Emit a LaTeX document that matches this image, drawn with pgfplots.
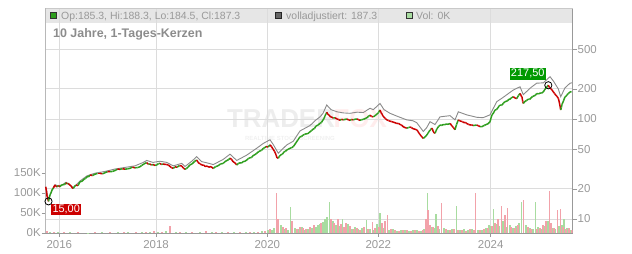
\documentclass[border=0pt]{standalone}
\usepackage{pgfplots}
\pgfplotsset{compat=1.18}
\usepackage{fontspec}
\setmainfont{Liberation Sans}
\definecolor{tickc}{HTML}{999999}
\definecolor{gridc}{HTML}{DCDCDC}
\definecolor{hdr}{HTML}{E6E6E6}
\definecolor{vgreen}{HTML}{A8DCA0}
\definecolor{vpink}{HTML}{F2A2AA}
\definecolor{pgreen}{HTML}{2E9E1E}
\definecolor{pred}{HTML}{CC0000}
\definecolor{adj}{HTML}{8A8A8A}
\definecolor{boxgreen}{HTML}{009900}

\pgfplotstableread{
x y d
45.7 21 0
46.5 19 0
47 17 0
48.5 15 1
50 17.5 1
51 18.2 1
52 19.5 1
53.5 20.5 0
55 21.9 0
56 21.2 0
57 21 1
58.5 21.6 0
60 21 1
61.5 21.9 1
63 22 1
64.5 22.1 1
66 23 0
67 22.5 1
68.3 22.7 0
69.5 22 0
71 21.5 0
72 20.6 0
73.3 20.2 1
74.5 21.2 1
76 21.8 0
78 21.6 1
80 23.6 1
82 23.8 1
84 25 1
85.5 25.4 1
87 26.5 1
88.5 26.4 1
90 27.5 0
92.5 27.2 1
95 28 1
97.5 28.6 0
100 28.6 0
102.5 28.3 1
105 29 1
107.5 29.8 0
110 29.7 1
112.5 29.9 1
115 30.5 1
117.5 31.5 0
120 31.4 1
122.5 31.8 0
125 31.5 1
127.5 31.7 1
130 32.1 1
132.5 33 0
135 32.5 1
137.5 32.7 1
140 33.3 1
141.5 34.2 1
143 35 1
145 36 1
146.7 36.6 0
148.5 35.2 1
150 35.5 0
151.5 34.6 1
153 35 0
155 34.4 1
156.7 34.7 1
158.5 35.8 1
160 36 0
161.5 35 1
163 35.5 0
165 35.2 0
166.7 35 0
168.5 34.6 0
170 33.5 0
171.5 32.6 0
173.3 32.1 1
175 33.2 0
177 33 1
179.5 34.2 0
181.7 33.9 0
183.5 32.2 0
185 31.4 1
186.5 32 1
188 33 1
190 34.8 1
192 35.5 1
194.5 37.6 1
196.7 38.9 0
198 37 0
199 36 0
200.5 35.6 0
201.7 34.5 0
203.5 34.8 0
205 33.5 0
207 33.8 0
209 33 0
211 33.4 0
213.3 32 1
215.5 33.4 1
218 34 1
220.5 35.5 1
223.3 36 1
225 37.5 1
227 38.5 1
228.5 39.2 1
230 40.5 0
231.5 39.5 0
233 37.5 0
235 36.4 0
236.7 34.7 1
238.5 36 1
240 36.5 1
241.5 36.2 1
243 37.5 1
245 37.8 1
246.7 38.9 1
248.5 40.3 1
250 41 1
251.5 41.2 1
253 43 1
255 44 1
256.7 45.4 1
258.5 47 1
260 48 1
261.5 48.5 1
263.3 50.9 1
264.5 51.5 1
266 53 0
268 52.5 1
270 55 0
271.5 53 0
273 50 0
274.5 47.5 0
276 44 0
277 41 0
278.3 40.5 1
279.5 42.5 1
281 44 1
282.5 44.5 1
284 47 1
285.5 47.5 1
286.7 49 1
288.5 50 1
290 51 1
291.5 51.5 1
293.3 53 1
294.5 55 1
296 58 1
298 62 1
300 66.5 1
301.5 66.8 1
303 69 1
304.5 70.2 1
306 71 1
308 71.5 1
310 74.6 1
311.5 76.5 1
313 79 1
314.5 80.5 1
316 85 1
318 87 1
320 90.5 1
321.5 92.5 1
323 98 1
324 101 1
325 108 1
326 112 1
326.7 117 0
328 111 0
329 110 0
330 106 0
331 105 0
332 104 0
333.3 102 1
335 103 0
337 100 0
338.5 99 0
340 97 1
341.5 99.5 0
343.3 98 1
345 99 1
347 100 0
348.5 98 0
350 97 1
351.5 99 0
353.3 98 1
355 99.5 1
357 100 0
358.5 98.5 0
360 97 1
361.5 98.5 1
363.3 99 1
365 101 1
367 103 1
368.5 106.5 1
370 109 0
371.5 106 0
373.3 105 1
375 108 1
377 112 1
378.5 116 1
380 123 0
381 116 0
382 112 0
383 107 0
384 104 0
385.5 101 0
386.7 98 0
388.5 96.5 0
390 95 0
391.5 94.5 0
393 93 0
395 92 0
396.7 90 0
398.5 90.5 0
400 88 0
401.5 87 0
403 84 0
405 82 0
406.7 81 1
408.5 82 1
410 83 0
411.5 82 0
413 80 0
415 79 0
416.7 78 0
418 75 0
419 72 0
420 70 0
421 68 0
422 66 0
423.3 64 1
425 66 1
426.7 69 1
428 72 1
429 75 1
430.5 78 1
431.7 81 0
432.5 79 0
433 76 0
434 73 0
435 72 1
436 76 1
437 80 1
438.5 84 1
440 87 1
441.5 86 1
443 88 1
444.5 87.5 1
446 89 1
448 88.5 1
450 90 0
451 88 0
452 85 0
453.5 82 0
455 78 1
456.5 88 1
458.3 98 0
459.5 96 0
461 95 0
462.5 94 0
464 92 0
465.5 92.5 0
466.7 90 0
468.5 88.5 0
470 87 0
471.5 87.5 0
473 86 1
475 86.5 1
476.7 87 0
478.5 85.5 0
480 84 1
481.5 83.5 1
483 85 1
484.5 86.5 1
486 88 1
488 89.5 1
490 94 1
491 102 1
492 110 1
493.5 115 1
495 123 1
496.5 124 1
498 130 1
499 134 1
500 138 1
501.5 137 1
503.3 143 1
504.5 148 1
506 150 1
507.5 152 1
509 158 1
510 157 1
511 162 1
512 164 1
513.3 167 0
515 162 0
516.7 160 1
518.5 172 1
520 180 0
521 172 0
522 165 0
522.7 150 0
523.3 143 1
524 146 1
525 150 1
526.5 153 1
528.3 158 1
529.5 157 1
531 162 1
532.5 168 1
534 170 1
535.5 173 1
536.7 180 1
538.5 178 1
540 182 1
541.5 181 1
543.3 187 1
544.5 195 1
546 205 1
547 210 1
548.3 218 0
549.5 206 0
551 200 0
552 195 0
553.3 187 0
554.5 180 0
556 172 0
557 168 0
558.3 161 0
559.2 148 0
560 135 0
560.7 123 1
561.3 130 1
562 140 1
563.5 152 1
565 167 1
566 168 1
567 175 1
568.5 180 1
570 187 1
571.5 187.3 0
}\pricetable

\pgfplotstableread{
x y
45.7 21
48.5 15.5
52 19.5
55 22
60 21.2
66 23.3
73.3 20.6
80 24
87 27
95 28.7
105 29.9
115 31.6
125 32.8
135 34
143 36.7
146.7 38.5
153 36.8
160 37.8
166.7 36.8
173.3 34
181.7 36
185 33.5
192 38
196.7 42
201.7 37.5
209 36
213.3 35
223.3 39.5
230 44.5
236.7 38.5
246.7 43.5
256.7 51
263.3 57
270 62
273 56
278.3 45.5
286.7 55
293.3 60
300 76
310 86
316 98
320 105
323 114
326.7 138
331 124
337 118
343.3 115
350 114
357 117
363.3 116
370 128
373.3 124
380 143
384 124
390 114
396.7 107
406.7 98
413 96
416.7 92
423.3 75
426.7 82
430 94
435 88
440 105
450 108
455 98
458.3 118
466.7 110
476.7 104
483 103
490 110
496.7 149
503.3 165
513.3 195
520 210
523.3 175
530 203
536.7 228
543.3 230
550 265
553.3 240
558.3 200
560.7 167
565 205
570 228
572 230
}\adjtable

\pgfplotstableread{
x v
50 2
58 1.5
70 2
88 1
102 2.5
118 1.5
128 2
142 3
150 2.5
158 3
166 4
176 2.5
186 3
200 3.5
212 2.5
222 2
234 3
246 2.5
254 3
262 5
268 8
272 7
274 12
281 20
284 10
288 8
290.7 66
295 12
298 9
302 15
305 8
308 10
312 12
316 15
318 20
320 22
323 28
325 35
327 40
329.3 77
333 30
336 20
340 18
342.7 34
345 12
348 23
352 10
355 14
358 9
362 12
366.7 32
370 10
374 8
377 22
380 50
384 12
389 8
393 9
397 6
401 8
405 7
409 6
413 8
417 7
421 6
424 10
427.3 100
431 15
434 12
436 48
439 10
444 12
448 8
452 9
456.3 67
460 8
464 9
468 7
472 10
478 8
482 7
486 12
489 20
491 18
493.3 59
496 22
499 18
503 30
506 15
510 20
513 12
516 18
519 25
521.3 77
526 20
530 12
533 10
535.3 77
538 15
542 10
545 18
548 30
552 12
555 10
559 18
562 20
564 36
567 12
570 8
}\volgreen

\pgfplotstableread{
x v
47 5
54 2
64 1.5
78 2
95 1.5
110 2
124 1.5
136 2
146 2.5
154 4
162 3
170 18
180 3
192 2.5
206 4
216 2
228 2
240 2.5
250 2
258 3
265 6
270 10
276.7 100
278 35
283 15
286 12
292 30
297 10
300 15
303 12
306 10
310 15
314 20
321 25
331 35
334 25
338 36
341 22
344 15
346 25
350 18
354 10
357 12
360 8
364 14
368 10
372.7 28
375 12
379 15
382 25
385 30
387.3 44
391 10
395 8
399 6
403 7
407 8
411 6
415 7
419 5
423 8
426 35
428 58
430 20
433 15
438 18
441.3 75
446 10
450 8
454 9
458 7
462 8
466 6
470 9
474 8
475.7 100
480 8
484 10
488 12
492 18
495 25
498 35
501.3 67
505 45
507.7 63
511 15
515 12
518 20
523.3 82
528 15
531 10
537 10
540 12
543 20
546 30
549.3 105
551 25
554 12
557.3 57
560.7 61
563 15
566 10
569 12
572 8
}\volpink

\begin{document}
\begin{tikzpicture}[x=1bp,y=1bp]
\path[use as bounding box] (0,0) rectangle (632,253);
% header band
\fill[hdr] (45.7,230.3) rectangle (572.7,245);
% watermark
\node[text=black!7, font=\bfseries\fontsize{26}{26}\selectfont, anchor=base] at (281,126) {TRADER};
\node[text=black!6, font=\bfseries\fontsize{6}{6}\selectfont, anchor=base] at (290,113) {REALTIME STOCK SCREENING};
\node[text=red!7, font=\bfseries\fontsize{26}{26}\selectfont, anchor=base west] at (330,126) {FOX};

% axis 1: price grid and ticks (log), x ticks
\begin{axis}[at={(45.7bp,20bp)}, anchor=south west, scale only axis,
  width=527bp, height=225bp,
  xmin=45.7, xmax=572.7, ymode=log, ymin=7.244, ymax=1288,
  axis y line*=right, axis x line*=bottom,
  xtick={59.3,156,267.3,378.3,490.7}, xticklabels={2016,2018,2020,2022,2024},
  ytick={10,20,50,100,200,500}, yticklabels={10,20,50,100,200,500},
  grid=major, major grid style={gridc, line width=0.8bp},
  tick style={tickc, line width=0.7bp}, major tick length=4bp, tick align=outside,
  axis line style={tickc, line width=0.8bp},
  ticklabel style={text=tickc, font=\fontsize{11.5}{12}\selectfont},
  yticklabel style={xshift=-2.5bp},
  xticklabel style={yshift=0bp}]
\addplot[draw=none] coordinates {(100,10)};
\end{axis}

% axis 2: volume
\begin{axis}[at={(45.7bp,20bp)}, anchor=south west, scale only axis,
  width=527bp, height=225bp,
  xmin=45.7, xmax=572.7, ymin=0, ymax=562.5,
  axis y line*=left, axis x line=none,
  ytick={0,50,100,150}, yticklabels={0K,50K,100K,150K},
  tick style={tickc, line width=0.7bp}, major tick length=4bp, tick align=outside,
  axis line style={tickc!70, line width=0.8bp},
  ticklabel style={text=tickc, font=\fontsize{11.5}{12}\selectfont},
  yticklabel style={xshift=2.5bp}]
\addplot[ycomb, vgreen, line width=1.3bp] table[x=x, y=v] {\volgreen};
\addplot[ycomb, vpink, line width=1.3bp] table[x=x, y=v] {\volpink};
\end{axis}

% axis 3: price lines
\begin{axis}[at={(45.7bp,20bp)}, anchor=south west, scale only axis,
  width=527bp, height=225bp,
  xmin=45.7, xmax=572.7, ymode=log, ymin=7.244, ymax=1288,
  hide axis, clip=false,
  colormap={ud}{color=(pred) color=(pgreen)},
  point meta min=0, point meta max=1]
\addplot[adj, line width=0.9bp] table[x=x, y=y] {\adjtable};
\addplot[mesh, shader=flat corner, point meta=explicit, line width=1.5bp] table[x=x, y=y, meta=d] {\pricetable};
\addplot[only marks, mark=o, mark size=3.6bp, black, mark options={line width=0.8bp}] coordinates {(48.5,15) (548.3,217.5)};
\node[fill=pred, text=white, anchor=north west, inner sep=1.3bp, font=\fontsize{11}{11}\selectfont] at (axis cs:51,14.3) {15,00};
\node[fill=boxgreen, text=white, anchor=south east, inner sep=1.3bp, font=\fontsize{11}{11}\selectfont] at (axis cs:546,246) {217,50};
\end{axis}

% top frame line
\draw[gridc!80!gray, line width=0.8bp] (45.7,245) -- (572.7,245);

% header legend
\fill[pgreen] (50.7,234.3) rectangle (56.7,240.3);
\draw[black!80, line width=0.6bp] (50.7,234.3) rectangle (56.7,240.3);
\node[anchor=base west, inner sep=0, text=tickc, font=\fontsize{10.5}{11}\selectfont] at (61,233.2) {Op:185.3, Hi:188.3, Lo:184.5, Cl:187.3};
\fill[black!60] (275,234.3) rectangle (281,240.3);
\draw[black!85, line width=0.6bp] (275,234.3) rectangle (281,240.3);
\node[anchor=base west, inner sep=0, text=tickc, font=\fontsize{10.5}{11}\selectfont] at (286,233.2) {volladjustiert: 187.3};
\fill[vgreen] (406,234.3) rectangle (412,240.3);
\draw[black!80, line width=0.6bp] (406,234.3) rectangle (412,240.3);
\node[anchor=base west, inner sep=0, text=tickc, font=\fontsize{10.5}{11}\selectfont] at (416,233.2) {Vol: 0K};

% title
\node[anchor=base west, inner sep=0, text=black!45, font=\bfseries\fontsize{12.5}{13}\selectfont] at (53,215.5) {10 Jahre, 1-Tages-Kerzen};
\end{tikzpicture}
\end{document}
